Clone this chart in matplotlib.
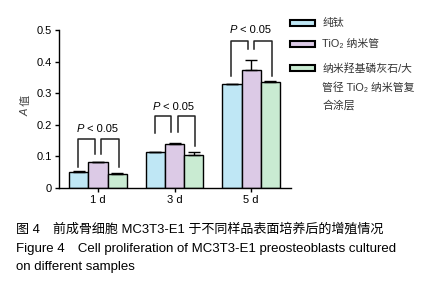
import matplotlib
matplotlib.use("Agg")
import matplotlib.pyplot as plt
from matplotlib.patches import Rectangle
import numpy as np

plt.rcParams['font.family'] = ['Liberation Sans', 'Noto Sans CJK SC', 'DejaVu Sans']

days = ["1 d", "3 d", "5 d"]
series = ["纯钛", "TiO₂ 纳米管", "纳米羟基磷灰石/大\n管径 TiO₂ 纳米管复\n合涂层"]
pure_ti = [0.052, 0.113, 0.328]
tio2_nt = [0.081, 0.140, 0.373]
composite = [0.045, 0.104, 0.336]
err_pure = [0.002, 0.002, 0.002]
err_nt = [0.003, 0.003, 0.032]
err_comp = [0.003, 0.011, 0.003]
values = [pure_ti, tio2_nt, composite]
errors = [err_pure, err_nt, err_comp]
colors = ["#bfe7f5", "#dccae6", "#c9ebd2"]
sig_text = "P < 0.05"
yticks = [0, 0.1, 0.2, 0.3, 0.4, 0.5]
ytick_labels = ["0", "0.1", "0.2", "0.3", "0.4", "0.5"]

# bracket geometry per group: (left bottom, inner-left bottom, inner-right bottom, right bottom, top, text y)
brackets = [
    (0.067, 0.108, 0.108, 0.067, 0.154, 0.170),
    (0.174, 0.176, 0.176, 0.134, 0.228, 0.242),
    (0.354, 0.439, 0.439, 0.354, 0.466, 0.485),
]

fig = plt.figure(figsize=(4.33, 3.0), dpi=100)
ax = fig.add_axes([0.136, 0.373, 0.536, 0.527])

x = np.arange(len(days))
w = 0.25
for i in range(3):
    ax.bar(x + (i - 1) * w, values[i], width=w, color=colors[i], edgecolor="black", linewidth=1.0, zorder=2)
    ax.errorbar(x + (i - 1) * w, values[i], yerr=[np.zeros(3), errors[i]], fmt="none",
                ecolor="black", elinewidth=1.0, capsize=4, capthick=1.0, zorder=3)

for g, (lb, ilb, irb, rb, top, ty) in enumerate(brackets):
    xl, xil, xir, xr = g - 0.26, g - 0.04, g + 0.04, g + 0.27
    ax.plot([xl, xl, xil, xil], [lb, top, top, ilb], color="#222222", lw=1.1, clip_on=False)
    ax.plot([xir, xir, xr, xr], [irb, top, top, rb], color="#222222", lw=1.1, clip_on=False)
    ax.text(g - 0.185, ty, sig_text[0], style="italic", fontsize=8, ha="right", va="bottom", clip_on=False)
    ax.text(g - 0.185, ty, " " + sig_text[2:], fontsize=8, ha="left", va="bottom", clip_on=False)

ax.set_xlim(-0.51, 2.52)
ax.set_ylim(0, 0.5)
ax.set_xticks(x)
ax.set_xticklabels(days, fontsize=8)
ax.set_yticks(yticks)
ax.set_yticklabels(ytick_labels, fontsize=8)
ax.tick_params(direction="out", length=3, width=1.0, pad=2)
for s in ["top", "right"]:
    ax.spines[s].set_visible(False)
for s in ["left", "bottom"]:
    ax.spines[s].set_linewidth(1.0)

# y label: italic A + 值
ax.text(-0.142, 0.5, "A", style="italic", fontsize=8, rotation=90, ha="center", va="top",
        transform=ax.transAxes, color="#444444")
ax.text(-0.142, 0.5, " 值", fontsize=8, rotation=90, ha="center", va="bottom",
        transform=ax.transAxes, color="#444444")

# legend
leg_y = [0.923, 0.853, 0.773]
for i in range(3):
    fig.patches.append(Rectangle((0.670, leg_y[i] - 0.011), 0.058, 0.022, transform=fig.transFigure,
                                 facecolor=colors[i], edgecolor="black", linewidth=1.5))
    fig.text(0.744, leg_y[i] + 0.016, series[i], fontsize=7.8, ha="left", va="top",
             linespacing=1.9, color="#333333")

fig.text(0.037, 0.237, "图 4　前成骨细胞 MC3T3-E1 于不同样品表面培养后的增殖情况", fontsize=9.4, ha="left", va="center")
fig.text(0.037, 0.170, "Figure 4　Cell proliferation of MC3T3-E1 preosteoblasts cultured", fontsize=9.5, ha="left", va="center")
fig.text(0.037, 0.110, "on different samples", fontsize=9.5, ha="left", va="center")

fig.savefig("out.png", dpi=100)
